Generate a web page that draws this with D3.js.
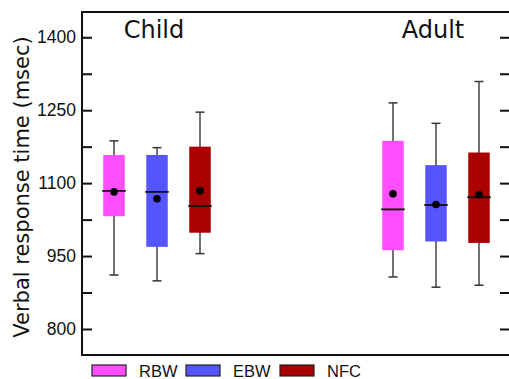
<!DOCTYPE html>
<html>
<head>
<meta charset="utf-8">
<script src="https://cdn.jsdelivr.net/npm/d3@7"></script>
<style>
body{margin:0;background:#fff;}
</style>
</head>
<body>
<div id="svgContainer"></div>
<script>
// chart data
var groups = ["Child","Adult"];
var series = ["RBW","EBW","NFC"];
var colorList = ["#ff4dff","#5555ff","#aa0000"];
// one row per group, one entry per series
var whiskerLow  = [[911, 899, 955],[907, 886, 890]];
var boxQ1       = [[1032, 969, 998],[962, 980, 977]];
var boxMedian   = [[1084, 1082, 1053],[1046, 1055, 1071]];
var boxQ3       = [[1158, 1158, 1175],[1187, 1137, 1163]];
var whiskerHigh = [[1187, 1173, 1246],[1265, 1223, 1309]];
var boxMean     = [[1082, 1068, 1084],[1078, 1056, 1076]];
var majorTicks = [800, 950, 1100, 1250, 1400];
var minorTicks = [875, 1025, 1175, 1325];

var svgWidth = 509, svgHeight = 379;
var margin = {top:12,left:82,right:0,bottom:24};
var svg = d3.select("#svgContainer").append("svg")
    .attr("width",svgWidth)
    .attr("height",svgHeight)
    .style("font-family","'Liberation Sans', Arial, sans-serif");

var plotBottom = svgHeight - margin.bottom; // 355
var y = d3.scaleLinear().domain([746.5,1452]).range([plotBottom, margin.top]);
var gx = d3.scalePoint().domain(groups).range([157,436]);
var sx = d3.scaleBand().domain(series).range([-64.5,64.5]);
var colors = d3.scaleOrdinal().domain(series).range(colorList);
var boxW = 21.5, capW = 9;

// build box table
var boxes = [];
groups.forEach(function(g,gi){
    series.forEach(function(s,si){
        boxes.push({group:g, name:s,
            lo:whiskerLow[gi][si], q1:boxQ1[gi][si], med:boxMedian[gi][si],
            q3:boxQ3[gi][si], hi:whiskerHigh[gi][si], mean:boxMean[gi][si]});
    });
});
function cx(d){ return gx(d.group) + sx(d.name) + sx.bandwidth()/2; }

// frame
svg.append("rect")
    .attr("x",margin.left)
    .attr("y",margin.top)
    .attr("width",svgWidth - margin.left + 5)
    .attr("height",plotBottom - margin.top)
    .attr("fill","none")
    .attr("stroke","#111")
    .attr("stroke-width",2);

// left axis, ticks pointing inward
var allTicks = majorTicks.concat(minorTicks).sort(d3.ascending);
svg.append("g")
    .attr("id","yaxis")
    .attr("transform","translate("+margin.left+",0)")
    .call(d3.axisLeft(y).tickValues(allTicks).tickSize(-10).tickPadding(6)
        .tickFormat(function(d){ return majorTicks.indexOf(d) >= 0 ? d : ""; }))
    .call(function(g){ g.select(".domain").remove(); })
    .call(function(g){
        g.selectAll("line").attr("stroke","#111").attr("stroke-width",2);
        g.selectAll("text").attr("font-size",17.5).attr("fill","#111")
            .attr("font-family","'Liberation Sans', Arial, sans-serif");
    });

// right axis ticks
svg.append("g")
    .attr("id","yaxis2")
    .attr("transform","translate("+svgWidth+",0)")
    .call(d3.axisLeft(y).tickValues(allTicks).tickSize(9).tickFormat(""))
    .call(function(g){ g.select(".domain").remove(); })
    .call(function(g){ g.selectAll("line").attr("stroke","#111").attr("stroke-width",2); });

// y label
svg.append("text")
    .attr("transform","translate(29,187) rotate(-90)")
    .attr("text-anchor","middle")
    .attr("font-family","'DejaVu Sans', sans-serif")
    .attr("font-size",21)
    .attr("fill","#111")
    .text("Verbal response time (msec)");

// group titles
svg.selectAll(".gtitle")
    .data(groups)
    .enter().append("text")
    .attr("class","gtitle")
    .attr("x",function(d){ return gx(d) - 3; })
    .attr("y",38)
    .attr("text-anchor","middle")
    .attr("font-family","'DejaVu Sans', sans-serif")
    .attr("font-size",24)
    .attr("fill","#111")
    .text(function(d){ return d; });

var bx = svg.append("g").attr("id","boxes")
    .selectAll("g").data(boxes).enter().append("g");

// whiskers
bx.append("line")
    .attr("x1",cx).attr("x2",cx)
    .attr("y1",function(d){ return y(d.hi); })
    .attr("y2",function(d){ return y(d.lo); })
    .attr("stroke","#444").attr("stroke-width",1.5);
bx.append("line")
    .attr("x1",function(d){ return cx(d)-capW/2; })
    .attr("x2",function(d){ return cx(d)+capW/2; })
    .attr("y1",function(d){ return y(d.hi); })
    .attr("y2",function(d){ return y(d.hi); })
    .attr("stroke","#333").attr("stroke-width",1.5);
bx.append("line")
    .attr("x1",function(d){ return cx(d)-capW/2; })
    .attr("x2",function(d){ return cx(d)+capW/2; })
    .attr("y1",function(d){ return y(d.lo); })
    .attr("y2",function(d){ return y(d.lo); })
    .attr("stroke","#333").attr("stroke-width",1.5);

// boxes
bx.append("rect")
    .attr("x",function(d){ return cx(d)-boxW/2; })
    .attr("y",function(d){ return y(d.q3); })
    .attr("width",boxW)
    .attr("height",function(d){ return y(d.q1) - y(d.q3); })
    .attr("fill",function(d){ return colors(d.name); });

// median
bx.append("line")
    .attr("x1",function(d){ return cx(d)-boxW/2-1; })
    .attr("x2",function(d){ return cx(d)+boxW/2+1; })
    .attr("y1",function(d){ return y(d.med); })
    .attr("y2",function(d){ return y(d.med); })
    .attr("stroke","#111").attr("stroke-width",1.8);

// mean
bx.append("circle")
    .attr("cx",cx)
    .attr("cy",function(d){ return y(d.mean); })
    .attr("r",3.8)
    .attr("fill","#000");

// legend
var legend = svg.selectAll(".legend")
    .data(series)
    .enter().append("g")
    .attr("class","legend")
    .attr("transform",function(d,i){ return "translate("+(92 + i*94)+",365)"; });
legend.append("rect")
    .attr("width",34)
    .attr("height",11)
    .attr("fill",function(d){ return colors(d); })
    .attr("stroke","#222")
    .attr("stroke-width",1.2);
legend.append("text")
    .attr("x",47)
    .attr("y",12)
    .attr("font-size",16.5)
    .attr("fill","#111")
    .text(function(d){ return d; });
</script>
</body>
</html>
